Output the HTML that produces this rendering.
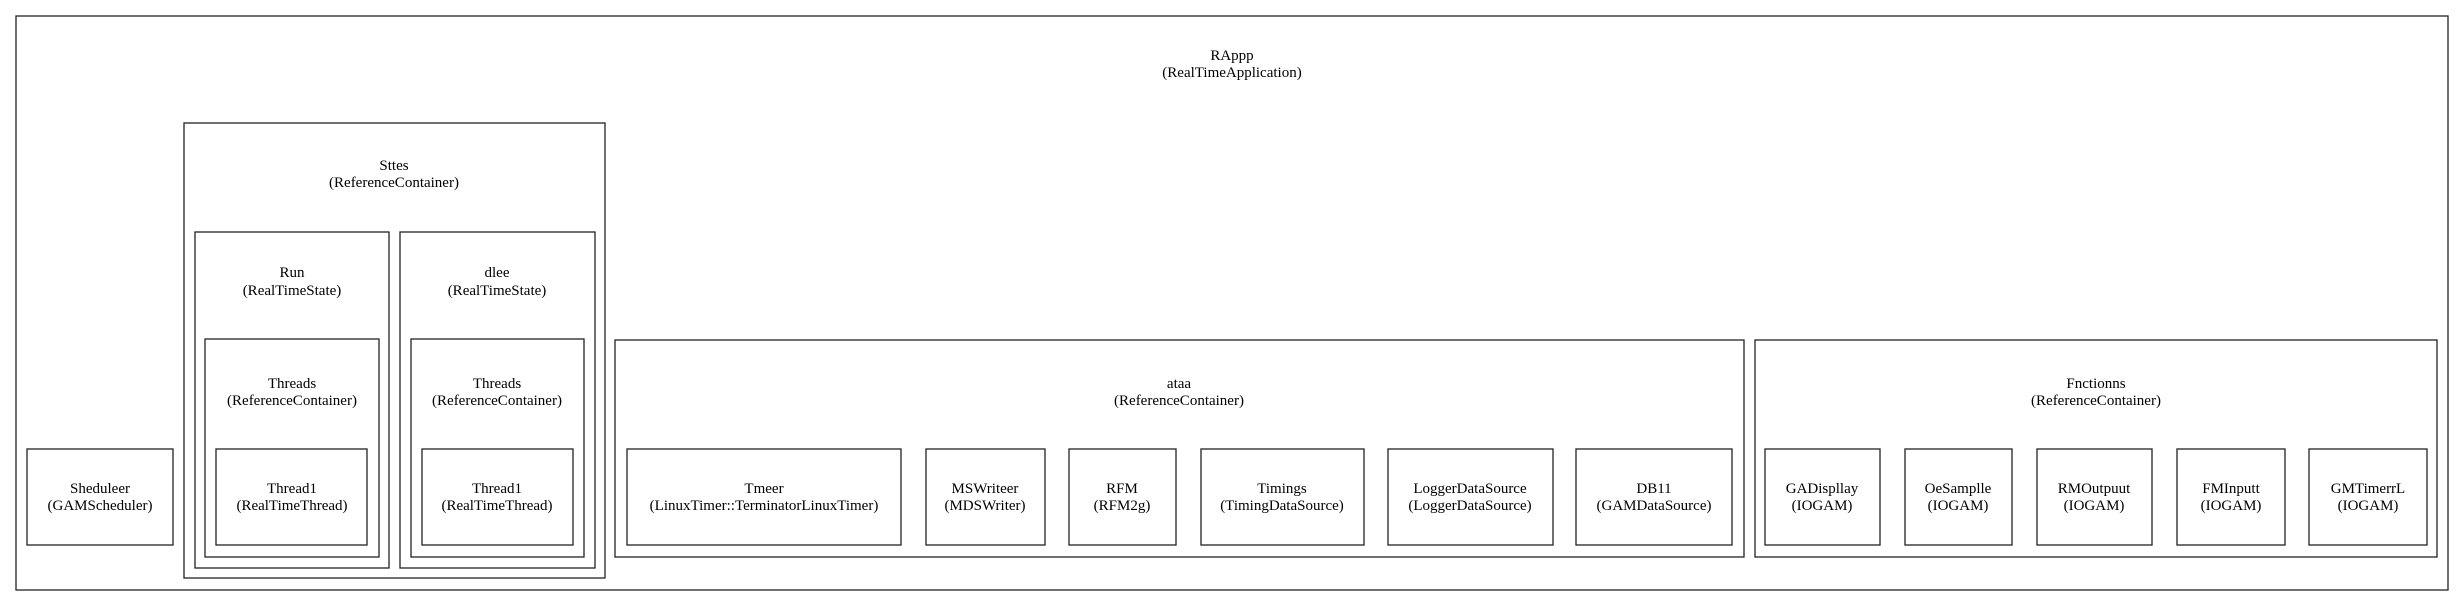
<!DOCTYPE html>
<html><head><meta charset="utf-8"><style>
html,body{margin:0;padding:0;background:#fff;}
svg{display:block;}
text{font-family:"Liberation Serif",serif;font-size:15px;fill:#000;text-anchor:middle;}
rect{fill:none;stroke:#222;stroke-width:1.3;}
</style></head><body>
<svg width="2464" height="605" viewBox="0 0 2464 605" xmlns="http://www.w3.org/2000/svg">
<rect x="16" y="16" width="2432" height="574"/>
<text x="1232" y="60">RAppp</text><text x="1232" y="77">(RealTimeApplication)</text>

<rect x="27" y="449" width="146" height="96"/>
<text x="100" y="493">Sheduleer</text><text x="100" y="510">(GAMScheduler)</text>

<rect x="184" y="123" width="421" height="455"/>
<text x="394" y="170">Sttes</text><text x="394" y="187">(ReferenceContainer)</text>

<rect x="195" y="232" width="194" height="336"/>
<text x="292" y="277">Run</text><text x="292" y="295">(RealTimeState)</text>
<rect x="205" y="339" width="174" height="218"/>
<text x="292" y="388">Threads</text><text x="292" y="405">(ReferenceContainer)</text>
<rect x="216" y="449" width="151" height="96"/>
<text x="292" y="493">Thread1</text><text x="292" y="510">(RealTimeThread)</text>

<rect x="400" y="232" width="195" height="336"/>
<text x="497" y="277">dlee</text><text x="497" y="295">(RealTimeState)</text>
<rect x="411" y="339" width="173" height="218"/>
<text x="497" y="388">Threads</text><text x="497" y="405">(ReferenceContainer)</text>
<rect x="422" y="449" width="151" height="96"/>
<text x="497" y="493">Thread1</text><text x="497" y="510">(RealTimeThread)</text>

<rect x="615" y="340" width="1129" height="217"/>
<text x="1179" y="388">ataa</text><text x="1179" y="405">(ReferenceContainer)</text>
<rect x="627" y="449" width="274" height="96"/>
<text x="764" y="493">Tmeer</text><text x="764" y="510">(LinuxTimer::TerminatorLinuxTimer)</text>
<rect x="926" y="449" width="119" height="96"/>
<text x="985" y="493">MSWriteer</text><text x="985" y="510">(MDSWriter)</text>
<rect x="1069" y="449" width="107" height="96"/>
<text x="1122" y="493">RFM</text><text x="1122" y="510">(RFM2g)</text>
<rect x="1201" y="449" width="163" height="96"/>
<text x="1282" y="493">Timings</text><text x="1282" y="510">(TimingDataSource)</text>
<rect x="1388" y="449" width="165" height="96"/>
<text x="1470" y="493">LoggerDataSource</text><text x="1470" y="510">(LoggerDataSource)</text>
<rect x="1576" y="449" width="156" height="96"/>
<text x="1654" y="493">DB11</text><text x="1654" y="510">(GAMDataSource)</text>

<rect x="1755" y="340" width="682" height="217"/>
<text x="2096" y="388">Fnctionns</text><text x="2096" y="405">(ReferenceContainer)</text>
<rect x="1765" y="449" width="115" height="96"/>
<text x="1822" y="493">GADispllay</text><text x="1822" y="510">(IOGAM)</text>
<rect x="1905" y="449" width="107" height="96"/>
<text x="1958" y="493">OeSamplle</text><text x="1958" y="510">(IOGAM)</text>
<rect x="2037" y="449" width="115" height="96"/>
<text x="2094" y="493">RMOutpuut</text><text x="2094" y="510">(IOGAM)</text>
<rect x="2177" y="449" width="108" height="96"/>
<text x="2231" y="493">FMInputt</text><text x="2231" y="510">(IOGAM)</text>
<rect x="2309" y="449" width="118" height="96"/>
<text x="2368" y="493">GMTimerrL</text><text x="2368" y="510">(IOGAM)</text>
</svg>
</body></html>
